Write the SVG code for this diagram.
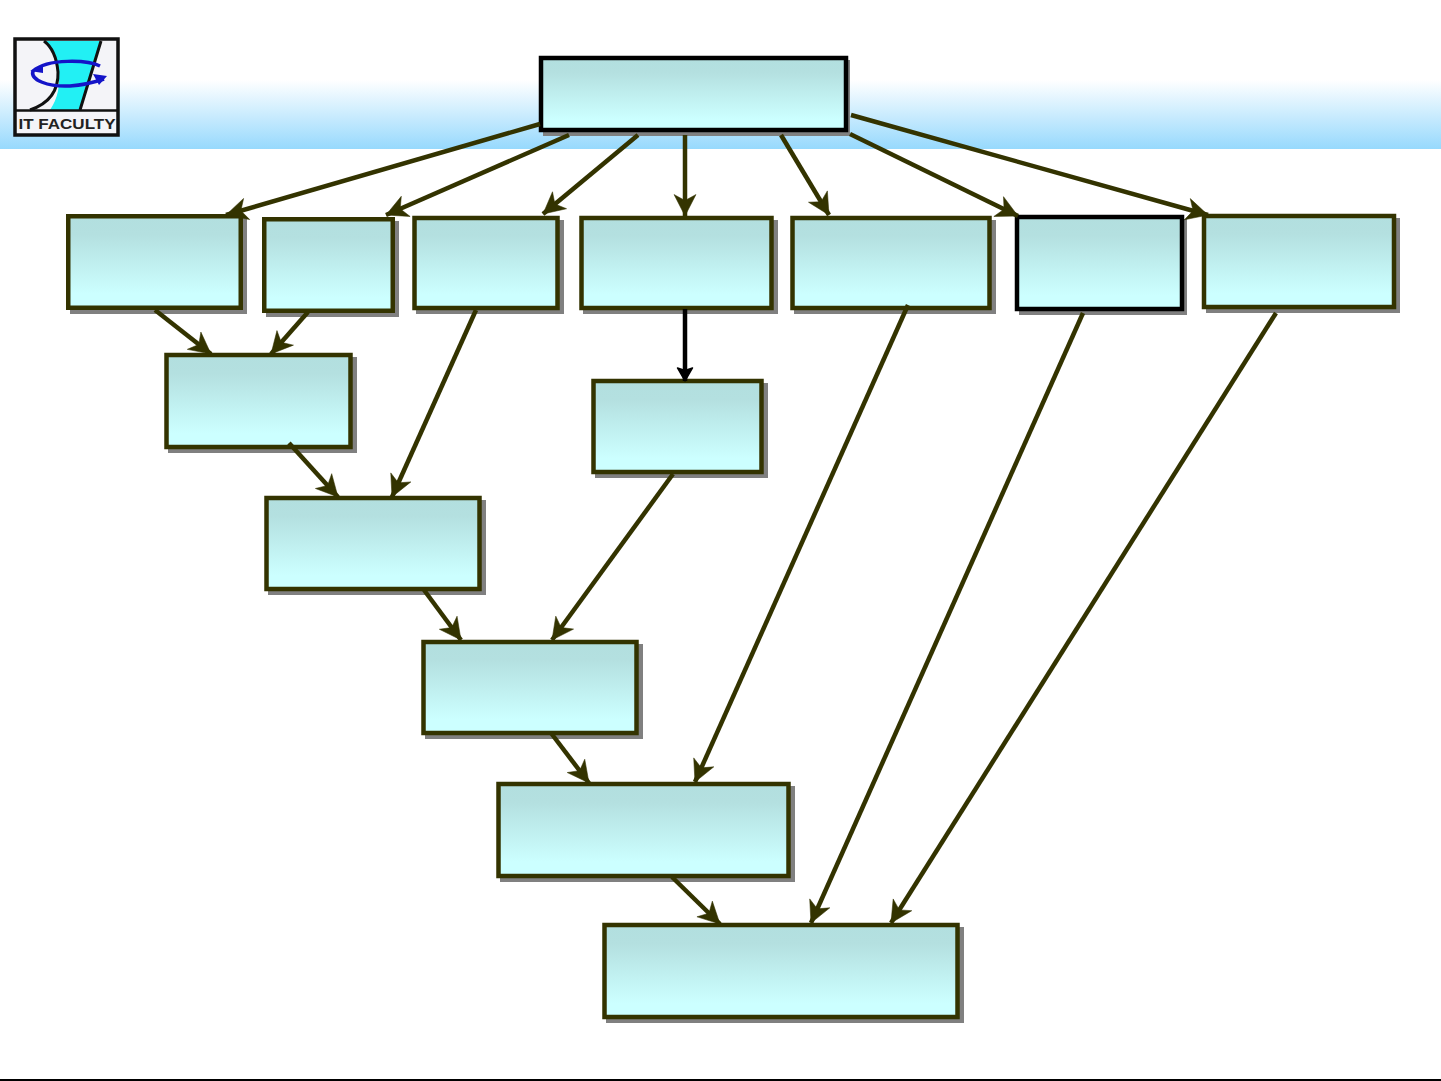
<svg xmlns="http://www.w3.org/2000/svg" width="1441" height="1081" viewBox="0 0 1441 1081">
<style>
.box{fill:url(#boxFill);stroke:#333300;stroke-width:4.500}
.dark{stroke:#000}
.shadow{fill:#808080}
.link{fill:none;stroke:#333300;stroke-width:4.500;marker-end:url(#head)}
.linkDark{stroke:#000;marker-end:url(#headDark)}
</style>
<defs>
<linearGradient id="band" x1="0" y1="0" x2="0" y2="1"><stop offset="0" stop-color="#fff"/><stop offset="1" stop-color="#97d9fd"/></linearGradient>
<linearGradient id="boxFill" x1="0" y1="0" x2="0" y2="1"><stop offset="0" stop-color="#b2dfdf"/><stop offset="0.2" stop-color="#b4e0e0"/><stop offset="0.85" stop-color="#ccffff"/><stop offset="1" stop-color="#ccffff"/></linearGradient>
<marker id="head" markerUnits="userSpaceOnUse" markerWidth="30" markerHeight="30" refX="25" refY="15" orient="auto" viewBox="0 0 30 30"><path d="M25 15L3.500 4L9.500 15L3.500 26Z" fill="#333300" stroke="#333300" stroke-width="0.500"/></marker>
<marker id="headDark" markerUnits="userSpaceOnUse" markerWidth="30" markerHeight="30" refX="25" refY="15" orient="auto" viewBox="0 0 30 30"><path d="M25 15L12 7.500L14.500 15L12 22.500Z" fill="#000" stroke="#000" stroke-width="1.500" stroke-linejoin="round"/></marker>
</defs>
<rect id="header-band" x="0" y="80" width="1441" height="69" fill="url(#band)"/>
<rect id="footer-line" x="0" y="1079" width="1441" height="2" fill="#000"/>
<g id="logo">
<rect x="15" y="39" width="103" height="96" fill="#f4f4f8" stroke="#111" stroke-width="3.500"/>
<path d="M44 41H100L80 110H50Q62 92 58 70Q54 50 44 41Z" fill="#22f0f4"/>
<path d="M44 41Q56 50 58 72Q59 100 30 110M101 41L80 110" fill="none" stroke="#111" stroke-width="3"/>
<path d="M100 66C88 60 48 58 33 71C30 80 48 87 70 86C85 85 95 82 104 79" fill="none" stroke="#1414c8" stroke-width="3.500"/>
<path d="M30 71L43 65V73ZM107 76L93 74L99 85Z" fill="#1414c8"/>
<path d="M15 110.500H118" stroke="#111" stroke-width="2.500"/>
<text x="67" y="129" text-anchor="middle" font-family="'Liberation Sans',Arial,sans-serif" font-size="15" font-weight="700" textLength="97" lengthAdjust="spacingAndGlyphs" fill="#222">IT FACULTY</text>
</g>
<g id="n-top"><rect class="shadow" x="543" y="60" width="307" height="76"/><rect class="box dark" x="541" y="58" width="305" height="72"/></g>
<g id="n-a"><rect class="shadow" x="70" y="218" width="177" height="96"/><rect class="box" x="68.250" y="216.250" width="172.500" height="91.500"/></g>
<g id="n-b"><rect class="shadow" x="266" y="221" width="133" height="96"/><rect class="box" x="264.250" y="219.250" width="128.500" height="91.500"/></g>
<g id="n-c"><rect class="shadow" x="416" y="220" width="148" height="94"/><rect class="box" x="414.500" y="218" width="143" height="90"/></g>
<g id="n-d"><rect class="shadow" x="583" y="220" width="195" height="94"/><rect class="box" x="581.500" y="218" width="190" height="90"/></g>
<g id="n-e"><rect class="shadow" x="794" y="220" width="202" height="94"/><rect class="box" x="792.500" y="218" width="197" height="90"/></g>
<g id="n-f"><rect class="shadow" x="1019" y="219" width="168" height="96"/><rect class="box dark" x="1017" y="217" width="165" height="92"/></g>
<g id="n-g"><rect class="shadow" x="1206" y="218" width="194" height="95"/><rect class="box" x="1204" y="216" width="190" height="91"/></g>
<g id="n-h"><rect class="shadow" x="168" y="357" width="189" height="96"/><rect class="box" x="166.500" y="355" width="184" height="92"/></g>
<g id="n-i"><rect class="shadow" x="595" y="383" width="173" height="95"/><rect class="box" x="593.500" y="381" width="168" height="91"/></g>
<g id="n-j"><rect class="shadow" x="268" y="500" width="218" height="95"/><rect class="box" x="266.500" y="498" width="213" height="91"/></g>
<g id="n-k"><rect class="shadow" x="425" y="644" width="218" height="95"/><rect class="box" x="423.500" y="642" width="213" height="91"/></g>
<g id="n-l"><rect class="shadow" x="500" y="786" width="295" height="96"/><rect class="box" x="498.500" y="784" width="290" height="92"/></g>
<g id="n-m"><rect class="shadow" x="606" y="927" width="358" height="96"/><rect class="box" x="604.500" y="925" width="353" height="92"/></g>
<g id="connectors">
<line class="link" x1="540" y1="124" x2="226" y2="215"/>
<line class="link" x1="569" y1="135" x2="386" y2="215"/>
<line class="link" x1="638" y1="135" x2="543" y2="214"/>
<line class="link" x1="685" y1="135" x2="685" y2="216"/>
<line class="link" x1="781" y1="135" x2="829" y2="215"/>
<line class="link" x1="850" y1="134" x2="1018" y2="216"/>
<line class="link" x1="851" y1="115" x2="1208" y2="215"/>
<line class="link" x1="155" y1="310" x2="211" y2="354"/>
<line class="link" x1="308" y1="312" x2="271" y2="354"/>
<line class="link" x1="476" y1="310" x2="392" y2="497"/>
<line class="link linkDark" x1="685" y1="309" x2="685" y2="381"/>
<line class="link" x1="289" y1="443" x2="338" y2="497"/>
<line class="link" x1="673" y1="474" x2="552" y2="640"/>
<line class="link" x1="424" y1="590" x2="461" y2="640"/>
<line class="link" x1="908" y1="305" x2="695" y2="782"/>
<line class="link" x1="551" y1="733" x2="589" y2="783"/>
<line class="link" x1="1083" y1="313" x2="811" y2="923"/>
<line class="link" x1="1276" y1="313" x2="891" y2="923"/>
<line class="link" x1="672" y1="877" x2="720" y2="924"/>
</g>
</svg>
